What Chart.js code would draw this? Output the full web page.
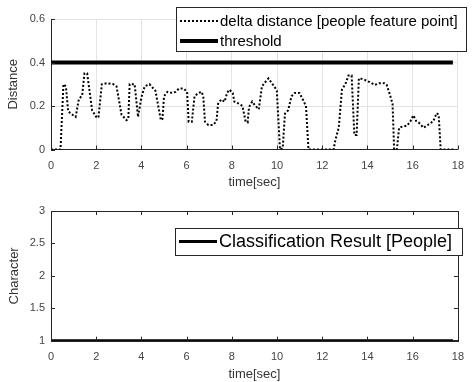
<!DOCTYPE html>
<html>
<head>
<meta charset="utf-8">
<script src="https://cdn.jsdelivr.net/npm/chart.js@4.4.1/dist/chart.umd.min.js"></script>
<style>
body{margin:0;background:#fff;width:474px;height:382px;overflow:hidden}
canvas{position:absolute;left:0}
#top{top:0}
#bot{top:195px}
</style>
</head>
<body>
<canvas id="top" width="474" height="195"></canvas>
<canvas id="bot" width="474" height="187"></canvas>
<script>
// time axis [sec] and delta distance
var times = [0, 0.42, 0.55, 0.66, 0.76, 0.95, 1.09, 1.23, 1.38, 1.48, 1.6, 1.82, 2.03, 2.1, 2.25, 2.47, 2.76, 2.9,
  3.12, 3.34, 3.42, 3.48, 3.7, 3.85, 4.0, 4.14, 4.36, 4.62, 4.86, 4.93, 5.0, 5.15, 5.37, 5.51, 5.66, 5.87,
  6.02, 6.09, 6.23, 6.35, 6.52, 6.67, 6.74, 6.81, 6.96, 7.17, 7.32, 7.39, 7.53, 7.68, 7.79, 7.89, 8.04, 8.11,
  8.33, 8.47, 8.61, 8.7, 8.76, 8.9, 9.05, 9.19, 9.26, 9.33, 9.48, 9.62, 9.77, 9.91, 9.99, 10.13, 10.25, 10.35,
  10.49, 10.64, 10.78, 10.99, 11.14, 11.28, 11.39, 12.5, 12.58, 12.73, 12.87, 13.02, 13.16, 13.3, 13.42, 13.52,
  13.62, 13.73, 13.88, 14.1, 14.32, 14.53, 14.75, 14.85, 14.97, 15.11, 15.18, 15.3, 15.4, 15.54, 15.76, 15.9,
  16.03, 16.16, 16.26, 16.48, 16.7, 16.91, 17.06, 17.15, 17.24, 17.8];
var dist = [0, 0, 0.30, 0.29, 0.175, 0.16, 0.15, 0.23, 0.25, 0.35, 0.35, 0.18, 0.145, 0.15, 0.30, 0.305, 0.30, 0.29,
  0.16, 0.135, 0.14, 0.30, 0.30, 0.15, 0.24, 0.29, 0.30, 0.27, 0.135, 0.14, 0.245, 0.265, 0.26, 0.265, 0.28, 0.28,
  0.265, 0.128, 0.128, 0.245, 0.26, 0.265, 0.24, 0.128, 0.113, 0.113, 0.13, 0.21, 0.23, 0.22, 0.26, 0.275, 0.26, 0.22,
  0.21, 0.20, 0.128, 0.125, 0.195, 0.22, 0.20, 0.185, 0.235, 0.29, 0.31, 0.327, 0.305, 0.285, 0.27, 0, 0.005, 0.165,
  0.18, 0.245, 0.26, 0.26, 0.23, 0.20, 0, 0, 0.044, 0.10, 0.275, 0.30, 0.34, 0.34, 0.067, 0.067,
  0.327, 0.325, 0.32, 0.31, 0.297, 0.305, 0.305, 0.297, 0.26, 0.21, 0, 0, 0.10, 0.105, 0.11, 0.13,
  0.157, 0.13, 0.125, 0.10, 0.115, 0.13, 0.167, 0.16, 0, 0];
var threshT = [0, 17.78];
var threshV = [0.4, 0.4];
var classT = [0, 17.78];
var classV = [1, 1];

function pts(xs, ys) { return xs.map(function (x, i) { return {x: x, y: ys[i]}; }); }
function fmt(v) { return String(+v.toFixed(2)); }

Chart.defaults.font.family = "'Liberation Sans', Arial, sans-serif";
Chart.defaults.color = '#444';

function line(ctx, x1, y1, x2, y2) { ctx.beginPath(); ctx.moveTo(x1, y1); ctx.lineTo(x2, y2); ctx.stroke(); }

// matlab style inner ticks, box and legend
var frame = {
  id: 'frame',
  afterDraw: function (chart, args, o) {
    var ctx = chart.ctx, a = chart.chartArea, xs = chart.scales.x, ys = chart.scales.y;
    ctx.save();
    ctx.strokeStyle = '#262626';
    ctx.lineWidth = 1;
    xs.ticks.forEach(function (t) {
      var px = Math.round(xs.getPixelForValue(t.value)) + 0.5;
      line(ctx, px, a.bottom, px, a.bottom - 4);
      if (o.box) line(ctx, px, a.top, px, a.top + 4);
    });
    ys.ticks.forEach(function (t) {
      var py = Math.round(ys.getPixelForValue(t.value)) + 0.5;
      line(ctx, a.left, py, a.left + 4, py);
      if (o.box) line(ctx, a.right, py, a.right - 4, py);
    });
    if (o.box) ctx.strokeRect(Math.round(a.left) + 0.5, Math.round(a.top) + 0.5, Math.round(a.right - a.left), Math.round(a.bottom - a.top));
    var L = o.legend;
    ctx.fillStyle = '#fff';
    ctx.fillRect(L.x, L.y, L.w, L.h);
    ctx.strokeRect(L.x + 0.5, L.y + 0.5, L.w, L.h);
    L.rows.forEach(function (r) {
      var ds = chart.data.datasets[r.ds];
      ctx.strokeStyle = ds.borderColor;
      ctx.lineWidth = ds.borderWidth;
      ctx.setLineDash(ds.borderDash || []);
      line(ctx, L.x + 4, r.y, L.x + 4 + L.sample, r.y);
      ctx.setLineDash([]);
      ctx.fillStyle = '#000';
      ctx.font = L.font;
      ctx.textBaseline = 'middle';
      ctx.fillText(ds.label, L.x + L.textX, r.y + 1);
    });
    ctx.restore();
  }
};

function xAxis(titlePad, grid) {
  return {
    type: 'linear', min: 0, max: 18,
    ticks: {stepSize: 2, padding: 10, font: {size: 11}, maxRotation: 0},
    grid: {display: grid, color: '#e3e3e3', drawTicks: false},
    border: {display: true, color: '#262626'},
    title: {display: true, text: 'time[sec]', color: '#333', font: {size: 13}, padding: {top: 0, bottom: titlePad}}
  };
}

new Chart(document.getElementById('top'), {
  type: 'line',
  data: {
    datasets: [
      {label: 'delta distance [people feature point]', data: pts(times, dist), borderColor: '#000', borderWidth: 2, borderDash: [2, 2], pointRadius: 0, tension: 0},
      {label: 'threshold', data: pts(threshT, threshV), borderColor: '#000', borderWidth: 4, pointRadius: 0}
    ]
  },
  options: {
    responsive: false, animation: false, devicePixelRatio: 1,
    layout: {padding: {left: 0, right: 7, top: 19, bottom: 0}},
    plugins: {
      legend: {display: false}, tooltip: {enabled: false},
      frame: {box: false, legend: {x: 176, y: 7, w: 290, h: 44, sample: 38, textX: 44, font: '15px "Liberation Sans", Arial, sans-serif', rows: [{ds: 0, y: 21}, {ds: 1, y: 41}]}}
    },
    scales: {
      x: Object.assign(xAxis(5, true), {afterFit: function (s) { s.height = 45.5; }}),
      y: {
        min: 0, max: 0.6,
        ticks: {stepSize: 0.2, padding: 6, font: {size: 11}, callback: fmt},
        grid: {color: '#e3e3e3', drawTicks: false},
        border: {display: true, color: '#262626'},
        title: {display: true, text: 'Distance', color: '#333', font: {size: 13}, padding: {top: 6, bottom: 0}},
        afterFit: function (s) { s.width = 51; }
      }
    }
  },
  plugins: [frame]
});

new Chart(document.getElementById('bot'), {
  type: 'line',
  data: {
    datasets: [
      {label: 'Classification Result [People]', data: pts(classT, classV), borderColor: '#000', borderWidth: 3, pointRadius: 0}
    ]
  },
  options: {
    responsive: false, animation: false, devicePixelRatio: 1,
    layout: {padding: {left: 0, right: 7, top: 16, bottom: 0}},
    plugins: {
      legend: {display: false}, tooltip: {enabled: false},
      frame: {box: true, legend: {x: 175, y: 33, w: 287, h: 27, sample: 38, textX: 44, font: '18px "Liberation Sans", Arial, sans-serif', rows: [{ds: 0, y: 46.5}]}}
    },
    scales: {
      x: Object.assign(xAxis(0, false), {afterFit: function (s) { s.height = 41.3; }}),
      y: {
        min: 1, max: 3,
        ticks: {stepSize: 0.5, padding: 6, font: {size: 11}, callback: fmt},
        grid: {display: false, drawTicks: false},
        border: {display: true, color: '#262626'},
        title: {display: true, text: 'Character', color: '#333', font: {size: 13}, padding: {top: 7, bottom: 0}},
        afterFit: function (s) { s.width = 51; }
      }
    }
  },
  plugins: [frame]
});
</script>
</body>
</html>
